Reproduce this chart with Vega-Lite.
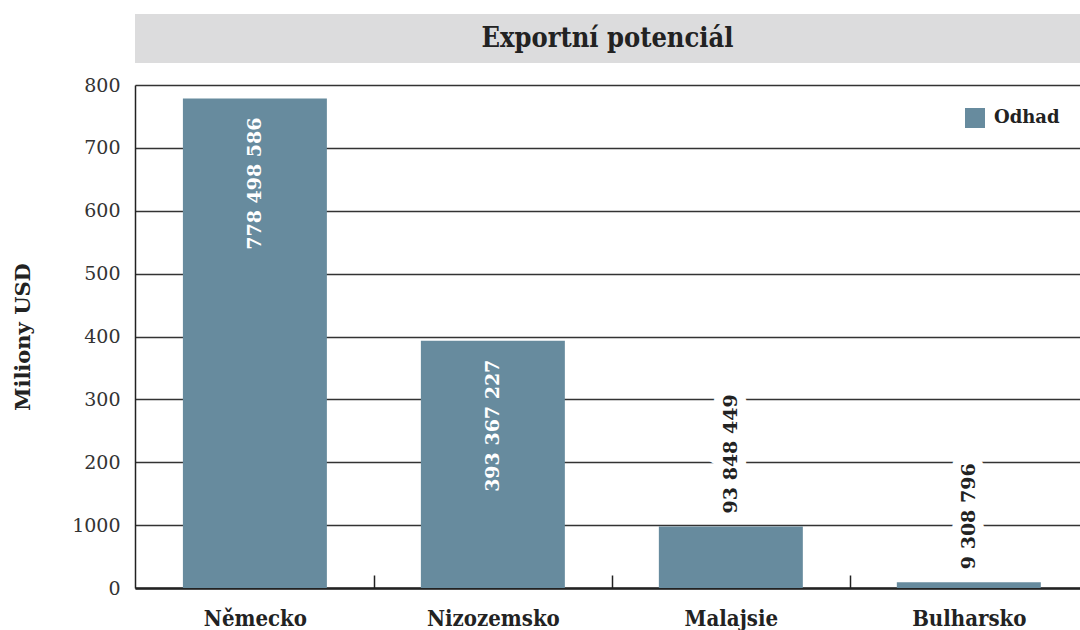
{
  "$schema": "https://vega.github.io/schema/vega-lite/v6.json",
  "padding": {"left": 12, "top": 14, "right": 0, "bottom": 2},
  "background": "white",
  "config": {"view": {"stroke": null}, "font": "DejaVu Serif"},
  "bounds": "flush",
  "spacing": 22,
  "vconcat": [
    {
      "width": 945,
      "height": 49,
      "view": {"fill": "#dcdcdd", "stroke": null},
      "data": {"values": [{"title": "Exportní potenciál"}]},
      "mark": {"type": "text", "font": "DejaVu Serif Condensed", "fontWeight": "bold", "fontSize": 27, "color": "#222222"},
      "encoding": {"text": {"field": "title", "type": "nominal"}}
    },
    {
      "width": 945,
      "height": 503,
      "data": {
        "values": [
          {"country": "Německo", "value": 778.5, "label": "778 498 586", "series": "Odhad"},
          {"country": "Nizozemsko", "value": 393.4, "label": "393 367 227", "series": "Odhad"},
          {"country": "Malajsie", "value": 98, "label": "93 848 449", "series": "Odhad"},
          {"country": "Bulharsko", "value": 9.3, "label": "9 308 796", "series": "Odhad"}
        ]
      },
      "encoding": {
        "x": {
          "field": "country",
          "type": "nominal",
          "sort": null,
          "scale": {"paddingInner": 0.395, "paddingOuter": 0.183, "align": 0.55},
          "axis": {
            "title": null,
            "labelAngle": 0,
            "labelFont": "DejaVu Serif Condensed",
            "labelFontWeight": "bold",
            "labelFontSize": 22,
            "labelColor": "#222222",
            "tickOffset": 119,
            "labelOffset": -119,
            "tickSize": -13,
            "tickColor": "#222222",
            "tickWidth": 1.5,
            "labelPadding": 33,
            "domainColor": "#222222",
            "domainWidth": 2.5,
            "grid": false
          }
        },
        "y": {
          "field": "value",
          "type": "quantitative",
          "scale": {"domain": [0, 800], "nice": false},
          "axis": {
            "title": "Miliony USD",
            "titleFont": "DejaVu Serif",
            "titleFontWeight": "bold",
            "titleFontSize": 21,
            "titleColor": "#222222",
            "titlePadding": 38,
            "labelFont": "DejaVu Serif",
            "labelFontSize": 19,
            "labelColor": "#333333",
            "labelPadding": 15,
            "ticks": false,
            "domain": true,
            "domainColor": "#222222",
            "domainWidth": 1.5,
            "grid": true,
            "gridColor": "#333333",
            "gridWidth": 1.5,
            "values": [0, 100, 200, 300, 400, 500, 600, 700, 800],
            "labelExpr": "datum.value == 100 ? '1000' : datum.label"
          }
        }
      },
      "layer": [
        {
          "mark": {"type": "bar"},
          "encoding": {
            "color": {
              "field": "series",
              "type": "nominal",
              "scale": {"range": ["#678b9e"]},
              "legend": {
                "title": null,
                "orient": "none",
                "legendX": 830,
                "legendY": 94,
                "symbolType": "square",
                "symbolSize": 400,
                "symbolStrokeWidth": 0,
                "symbolOpacity": 1,
                "labelOffset": 9,
                "labelFont": "DejaVu Serif",
                "labelFontWeight": "bold",
                "labelFontSize": 18,
                "labelColor": "#222222"
              }
            }
          }
        },
        {
          "transform": [{"filter": "datum.value > 200"}],
          "mark": {"type": "text", "angle": 270, "align": "right", "baseline": "middle", "dx": -19, "fill": "white", "fontSize": 19, "fontWeight": "bold", "font": "DejaVu Serif"},
          "encoding": {"text": {"field": "label", "type": "nominal"}}
        },
        {
          "transform": [{"filter": "datum.value <= 200"}],
          "mark": {"type": "text", "angle": 270, "align": "left", "baseline": "middle", "dx": 13, "fill": "white", "stroke": "white", "strokeWidth": 18, "fontSize": 19, "fontWeight": "bold", "font": "DejaVu Serif"},
          "encoding": {"text": {"field": "label", "type": "nominal"}}
        },
        {
          "transform": [{"filter": "datum.value <= 200"}],
          "mark": {"type": "text", "angle": 270, "align": "left", "baseline": "middle", "dx": 13, "fill": "#222222", "fontSize": 19, "fontWeight": "bold", "font": "DejaVu Serif"},
          "encoding": {"text": {"field": "label", "type": "nominal"}}
        }
      ]
    }
  ]
}
